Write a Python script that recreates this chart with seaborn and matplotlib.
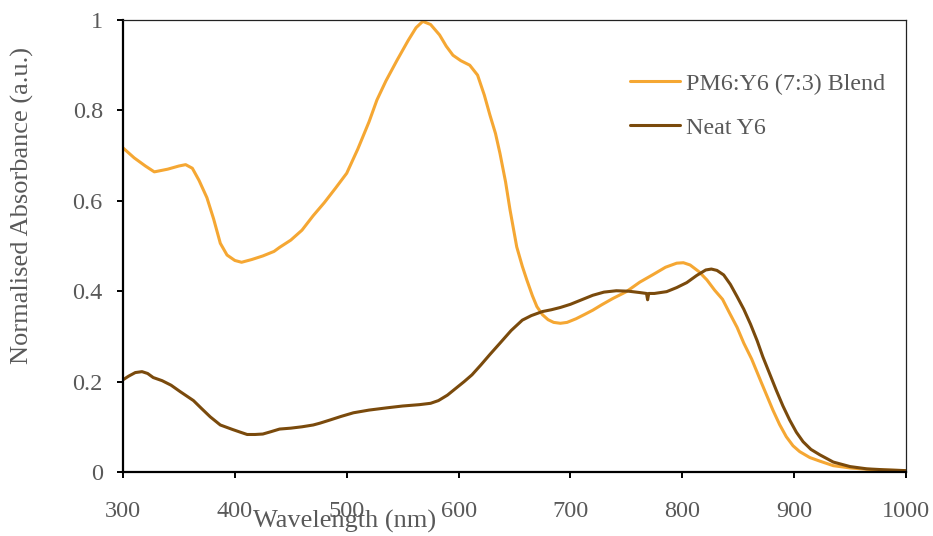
import matplotlib
matplotlib.use("Agg")
import matplotlib.pyplot as plt
import seaborn as sns
import pandas as pd

# ---- data ----
blend_wl = [300, 310, 320, 328, 340, 350, 356, 362, 368, 375, 381, 387, 393, 400, 406, 415, 425, 435, 440,
            450, 460, 470, 480, 490, 500, 510, 520, 527, 535, 545, 555, 562, 568, 575, 583, 589, 595, 602,
            610, 617, 623, 628, 633, 637, 642, 646, 652, 657, 661, 666, 670, 675, 680, 685, 691, 697, 705,
            713, 720, 728, 738, 750, 762, 774, 785, 795, 801, 807, 815, 822, 829, 836, 842, 849, 855, 862,
            871, 881, 887, 893, 899, 905, 914, 923, 935, 950, 965, 980, 1000]
blend_abs = [0.717, 0.695, 0.677, 0.664, 0.670, 0.677, 0.680, 0.672, 0.645, 0.607, 0.560, 0.506, 0.480,
             0.468, 0.464, 0.470, 0.478, 0.488, 0.497, 0.513, 0.535, 0.567, 0.596, 0.628, 0.661, 0.715,
             0.775, 0.823, 0.865, 0.911, 0.955, 0.983, 0.997, 0.990, 0.967, 0.942, 0.922, 0.910, 0.900,
             0.878, 0.834, 0.790, 0.749, 0.705, 0.642, 0.580, 0.498, 0.455, 0.425, 0.390, 0.366, 0.348,
             0.337, 0.331, 0.329, 0.331, 0.339, 0.349, 0.358, 0.370, 0.384, 0.399, 0.420, 0.437, 0.453,
             0.462, 0.463, 0.458, 0.443, 0.425, 0.402, 0.382, 0.353, 0.320, 0.285, 0.250, 0.196, 0.137,
             0.105, 0.078, 0.058, 0.045, 0.032, 0.024, 0.014, 0.009, 0.006, 0.004, 0.003]

neat_wl = [300, 305, 311, 317, 322, 327, 335, 343, 351, 357, 363, 370, 378, 387, 398, 405, 411, 418, 425,
           432, 440, 450, 460, 470, 476, 485, 495, 506, 520, 536, 550, 565, 575, 582, 590, 598, 605, 612,
           620, 628, 637, 647, 657, 665, 675, 683, 691, 700, 710, 720, 730, 741, 752, 762, 768, 769, 770,
           775, 786, 795, 804, 813, 821, 826, 831, 837, 843, 849, 855, 861, 867, 872, 878, 884, 890, 896,
           902, 908, 915, 923, 935, 950, 965, 980, 1000]
neat_abs = [0.204, 0.212, 0.220, 0.222, 0.218, 0.209, 0.202, 0.192, 0.178, 0.168, 0.158, 0.141, 0.122,
            0.104, 0.094, 0.088, 0.083, 0.083, 0.084, 0.089, 0.095, 0.097, 0.100, 0.104, 0.108, 0.115,
            0.123, 0.131, 0.137, 0.142, 0.146, 0.149, 0.152, 0.158, 0.170, 0.186, 0.200, 0.215, 0.237,
            0.260, 0.285, 0.313, 0.336, 0.346, 0.355, 0.359, 0.364, 0.371, 0.381, 0.391, 0.398, 0.401,
            0.400, 0.397, 0.395, 0.381, 0.395, 0.395, 0.399, 0.408, 0.419, 0.435, 0.447, 0.449, 0.446,
            0.436, 0.415, 0.388, 0.360, 0.327, 0.290, 0.255, 0.218, 0.181, 0.146, 0.115, 0.088, 0.067,
            0.050, 0.038, 0.022, 0.012, 0.007, 0.005, 0.003]

series_names = ["PM6:Y6 (7:3) Blend", "Neat Y6"]
series_colors = ["#F5A733", "#7A4A0C"]
x_ticks = [300, 400, 500, 600, 700, 800, 900, 1000]
y_ticks = [0, 0.2, 0.4, 0.6, 0.8, 1]
y_tick_labels = ["0", "0.2", "0.4", "0.6", "0.8", "1"]

df = pd.concat([
    pd.DataFrame({"Wavelength": blend_wl, "Absorbance": blend_abs, "Sample": series_names[0]}),
    pd.DataFrame({"Wavelength": neat_wl, "Absorbance": neat_abs, "Sample": series_names[1]}),
], ignore_index=True)

sns.set_theme(style="white")
plt.rcParams["font.family"] = ["Liberation Serif", "DejaVu Serif"]
text_color = "#595959"

fig = plt.figure(figsize=(9.33, 5.36), dpi=100)
ax = fig.add_axes([123 / 933, 1 - 472 / 536, (906 - 123) / 933, (472 - 20) / 536])

sns.lineplot(data=df, x="Wavelength", y="Absorbance", hue="Sample", hue_order=series_names,
             palette=series_colors, linewidth=2.2, ax=ax, sort=False, estimator=None)

ax.set_xlim(300, 1000)
ax.set_ylim(0, 1)
ax.set_xticks(x_ticks)
ax.set_yticks(y_ticks)
ax.set_yticklabels(y_tick_labels)

for side in ["left", "bottom"]:
    ax.spines[side].set_color("black")
    ax.spines[side].set_linewidth(1.6)
for side in ["top", "right"]:
    ax.spines[side].set_color("#222222")
    ax.spines[side].set_linewidth(0.9)
    ax.spines[side].set_visible(True)

ax.tick_params(axis="both", which="both", direction="out", length=4.5, width=1.4, color="black",
               labelsize=17.5, labelcolor=text_color, left=True, bottom=True, top=False, right=False)
ax.tick_params(axis="x", pad=16.5)
ax.tick_params(axis="y", pad=10)

ax.set_xlabel("Wavelength (nm)", fontsize=19, color=text_color)
ax.set_ylabel("Normalised Absorbance (a.u.)", fontsize=19, color=text_color)
ax.xaxis.set_label_coords((345 - 123) / 783, (472 - 521) / 452)
ax.xaxis.label.set_va("center")
ax.yaxis.set_label_coords((22 - 123) / 783, (472 - 206) / 452)
ax.yaxis.label.set_va("center")

leg = ax.legend(frameon=False, loc="upper left", bbox_to_anchor=(630 / 933, 1 - 73 / 536),
                bbox_transform=fig.transFigure, fontsize=17.3, handlelength=2.1,
                handletextpad=0.25, labelspacing=0.92, borderpad=0, borderaxespad=0, title=None)
for t in leg.get_texts():
    t.set_color(text_color)
for h in leg.get_lines():
    h.set_linewidth(2.2)

fig.savefig("out.png", dpi=100)
